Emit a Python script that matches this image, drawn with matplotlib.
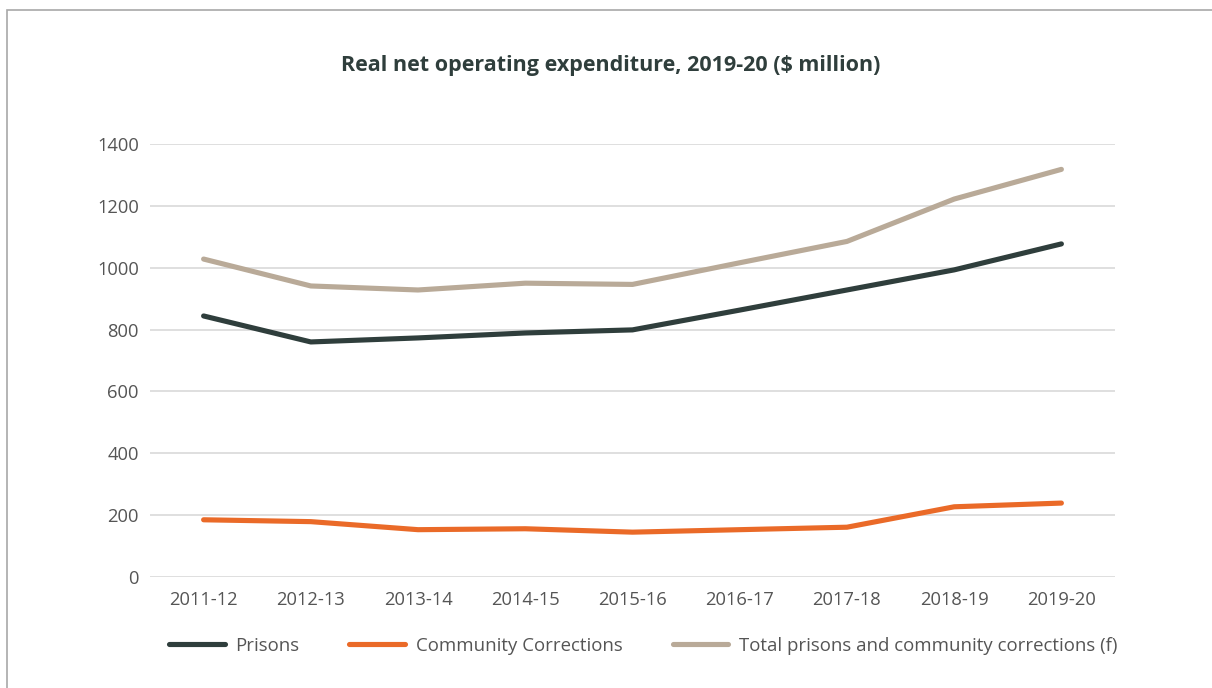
import matplotlib
matplotlib.use("Agg")
import matplotlib.pyplot as plt
from matplotlib.patches import Rectangle

plt.rcParams["font.family"] = ["Open Sans", "DejaVu Sans"]

years = ["2011-12", "2012-13", "2013-14", "2014-15", "2015-16",
         "2016-17", "2017-18", "2018-19", "2019-20"]
prisons = [844, 760, 773, 789, 799, 863, 928, 993, 1077]
community_corrections = [185, 179, 153, 156, 145, 153, 161, 227, 239]
total = [1028, 941, 928, 950, 946, 1016, 1085, 1222, 1318]

series = [
    ("Prisons", prisons, "#2f3e3c"),
    ("Community Corrections", community_corrections, "#ea6a28"),
    ("Total prisons and community corrections (f)", total, "#b9aa98"),
]

text_color = "#555555"

fig = plt.figure(figsize=(12.12, 6.88), dpi=100)
fig.patches.append(Rectangle((7 / 1212, -0.1), 1.2, 1 - 10 / 688 + 0.1,
                             transform=fig.transFigure, fill=False,
                             edgecolor="#a8a8a8", linewidth=1.2))

ax = fig.add_axes([150 / 1212, 1 - 577 / 688, 965 / 1212, 433 / 688])

x = list(range(len(years)))
for label, values, color in series:
    ax.plot(x, values, color=color, linewidth=3.7, solid_capstyle="round",
            solid_joinstyle="round", label=label, clip_on=False, zorder=3)

ax.set_xlim(-0.5, len(years) - 0.5)
ax.set_ylim(0, 1400)
ax.set_yticks(range(0, 1401, 200))
ax.set_xticks(x)
ax.set_xticklabels(years)
ax.grid(axis="y", color="#d9d9d9", linewidth=1.2)
ax.set_axisbelow(True)
for s in ax.spines.values():
    s.set_visible(False)
ax.tick_params(axis="both", length=0, labelsize=13.2, colors=text_color)
ax.tick_params(axis="y", pad=8)
ax.tick_params(axis="x", pad=10)

fig.text(0.504, 1 - 65 / 688, "Real net operating expenditure, 2019-20 ($ million)",
         ha="center", va="center", fontsize=15.5, fontweight="bold",
         color="#2f3e3c")

leg = fig.legend(loc="center", bbox_to_anchor=(643 / 1212, 1 - 646 / 688), ncol=3,
                 frameon=False, handlelength=3.0,
                 handletextpad=0.55, columnspacing=2.7,
                 prop={"size": 13.4})
for t in leg.get_texts():
    t.set_color(text_color)

fig.savefig("out.png", dpi=100, facecolor="white")
